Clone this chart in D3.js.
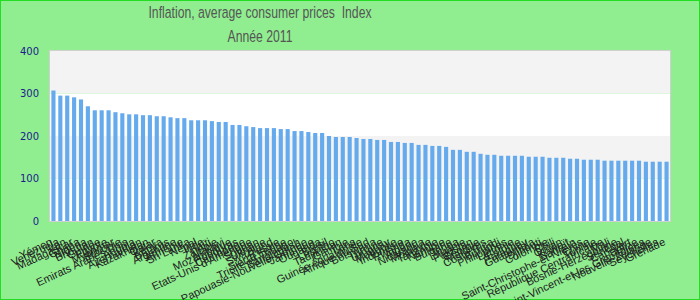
<html>
<head>
<meta charset="utf-8">
<script src="https://d3js.org/d3.v7.min.js"></script>
<style>
body { margin: 0; }
svg { display: block; }
.title { fill: #555; font-family: "Liberation Sans", Arial, sans-serif; white-space: pre; }
.bar { fill: #66aaee; }
.yaxis text { fill: #1c1c8c; font-family: "DejaVu Sans", sans-serif; font-size: 10px; }
.xaxis text { fill: #222; font-family: "Liberation Sans", Arial, sans-serif; font-size: 11px; }
</style>
</head>
<body>
<svg width=700 height=300></svg>
<script>

var countries = ["Yémen", "Venezuela", "Iran", "Madagascar", "Ghana", "Nigéria", "Bhoutan", "Guinée", "Egypte", "Myanmar",
  "Ethiopie", "Emirats Arabes Unis", "Angola", "Azerbaïdjan", "Kazakhstan", "Qatar", "Kenya", "Bélarus", "Argentine", "Arménie",
  "Sri Lanka", "Népal", "Inde", "Haïti", "Zambie", "Malawi", "Mozambique", "Honduras", "Cambodge", "Etats-Unis d'Amérique",
  "Soudan", "Ukraine", "Swaziland", "Russie", "Sierra Leone", "Trinité-et-Tobago", "Bangladesh", "Papouasie-Nouvelle-Guinée", "Jamaïque", "Ouganda",
  "Brésil", "Lesotho", "Tadjikistan", "Gambie", "Laos", "Guinée équatoriale", "Afrique du Sud", "Botswana", "Turquie", "Uruguay",
  "Mongolie", "Indonésie", "Rwanda", "Algérie", "Nicaragua", "Moldavie", "Tanzanie", "Namibie", "Bulgarie", "Tonga",
  "Lituanie", "Pakistan", "Géorgie", "Maldives", "Costa Rica", "Burundi", "Philippines", "Lettonie", "Estonie", "Paraguay",
  "Guatemala", "Djibouti", "Colombie", "Chili", "Oman", "Koweït", "Bahreïn", "Saint-Christophe-et-Niévès", "Chine", "Tunisie",
  "République Centrafricaine", "Mali", "Bosnie-Herzégovine", "Sénégal", "Cap-Vert", "Belize", "Saint-Vincent-et-les Grenadines", "Nouvelle-Zélande", "Seychelles", "Grenade"];

var values = [307, 295, 295, 291, 286, 270, 260.5, 260.5, 260.5, 256,
  253.5, 251, 251, 249, 249, 246.5, 246.5, 244, 242, 242,
  237, 237, 237, 235, 233, 233, 226, 226, 223, 221,
  218.6, 218.6, 218.6, 216.3, 216.3, 211.6, 211.6, 209.3, 207, 207,
  200, 197.7, 197.7, 197.7, 195.3, 193, 193, 190.7, 190.7, 186,
  186, 183.7, 183.7, 179.1, 179.1, 176.7, 176.7, 174.4, 167.4, 167.4,
  162.8, 162.8, 158.1, 155.8, 155.8, 153.5, 153.5, 153.5, 153.5, 151.2,
  151.2, 151.2, 148.8, 148.8, 148.8, 146.5, 146.5, 144.2, 144.2, 144.2,
  141.9, 141.9, 141.9, 141.9, 141.9, 141.9, 139.5, 139.5, 139.5, 139.5];

var yTicks = [0, 100, 200, 300, 400];

var title = "Inflation, average consumer prices  Index";
var subtitle = "Année 2011";

var width = 700, height = 300;
var plotLeft = 50, plotRight = 670, plotTop = 51, plotBottom = 221;

var svg = d3.select("svg");

// background + outer border
svg.append("rect")
  .attr("x", 0.5).attr("y", 0.5)
  .attr("width", width - 1).attr("height", height - 1)
  .attr("fill", "#90ee90")
  .attr("stroke", "#22dd22");

var x = d3.scaleBand().domain(countries).range([plotLeft, plotRight]).paddingInner(0.4).paddingOuter(0.2);
var y = d3.scaleLinear().domain([0, 400]).range([plotBottom, plotTop]);

// alternating bands
svg.append("g").selectAll("rect")
  .data(d3.pairs(yTicks))
  .enter().append("rect")
  .attr("x", plotLeft)
  .attr("y", function(d){return y(d[1]);})
  .attr("width", plotRight - plotLeft)
  .attr("height", function(d){return y(d[0]) - y(d[1]);})
  .attr("fill", function(d, i){return i % 2 == 0 ? "#ffffff" : "#f3f3f3";});

svg.append("rect")
  .attr("x", plotLeft - 0.5).attr("y", plotTop - 0.5)
  .attr("width", plotRight - plotLeft + 1).attr("height", plotBottom - plotTop + 1)
  .attr("fill", "none")
  .attr("stroke", "#d0d0d0");

svg.append("g").selectAll("rect")
  .data(values)
  .enter().append("rect")
  .attr("class", "bar")
  .attr("x", function(d, i){return x(countries[i]);})
  .attr("width", x.bandwidth())
  .attr("y", function(d){return y(d);})
  .attr("height", function(d){return y(0) - y(d);});

var yAxis = svg.append("g")
  .attr("class", "yaxis")
  .attr("transform", "translate(" + plotLeft + ",0)")
  .call(d3.axisLeft(y).tickValues(yTicks).tickSize(0).tickPadding(11));
yAxis.select(".domain").remove();

var xAxis = svg.append("g")
  .attr("class", "xaxis")
  .attr("transform", "translate(0," + plotBottom + ")")
  .call(d3.axisBottom(x).tickSize(0));
xAxis.select(".domain").remove();
// rotate around each tick's anchor point
xAxis.selectAll(".tick text")
  .attr("text-anchor", "end")
  .attr("x", 0).attr("y", 0)
  .attr("dy", "0.35em")
  .attr("transform", "translate(-2,20) rotate(-25)");

// titles use a narrow face, squeeze horizontally
svg.append("text")
  .attr("class", "title")
  .attr("transform", "translate(260,18) scale(0.74,1)")
  .attr("text-anchor", "middle")
  .style("font-size", "16.5px")
  .text(title);

svg.append("text")
  .attr("class", "title")
  .attr("transform", "translate(260,42) scale(0.74,1)")
  .attr("text-anchor", "middle")
  .style("font-size", "16.5px")
  .text(subtitle);

</script>
</body>
</html>
